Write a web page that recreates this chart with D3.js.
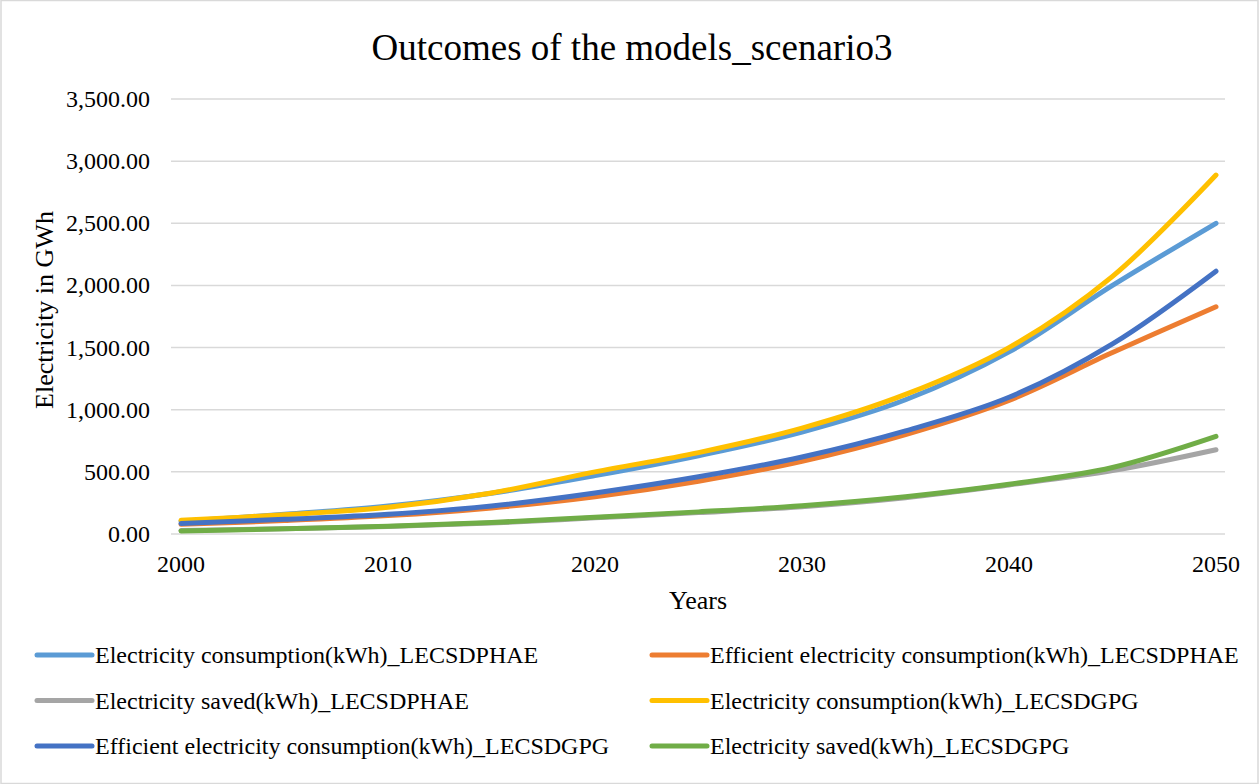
<!DOCTYPE html>
<html>
<head>
<meta charset="utf-8">
<script src="https://cdn.jsdelivr.net/npm/d3@7"></script>
<style>
    body { margin: 0; background: #fff; }
    text { font-family: "Times New Roman", Times, "Liberation Serif", serif; }
</style>
</head>
<body>
<svg id="chart" width="1260" height="784"></svg>
<script>
const years = [2000, 2005, 2010, 2015, 2020, 2025, 2030, 2035, 2040, 2045, 2050]
const xTicks = [2000, 2010, 2020, 2030, 2040, 2050]
const yTicks = [0, 500, 1000, 1500, 2000, 2500, 3000, 3500]

const seriesNames = [
    "Electricity consumption(kWh)_LECSDPHAE",
    "Efficient electricity consumption(kWh)_LECSDPHAE",
    "Electricity saved(kWh)_LECSDPHAE",
    "Electricity consumption(kWh)_LECSDGPG",
    "Efficient electricity consumption(kWh)_LECSDGPG",
    "Electricity saved(kWh)_LECSDGPG"
]
const consumptionPHAE = [103, 158, 225, 328, 470, 630, 820, 1080, 1465, 2000, 2500]
const efficientPHAE = [78, 108, 148, 210, 300, 425, 585, 800, 1075, 1460, 1828]
const savedPHAE = [28, 42, 60, 88, 130, 172, 220, 292, 395, 510, 678]
const consumptionGPG = [110, 155, 215, 330, 500, 655, 852, 1123, 1500, 2073, 2888]
const efficientGPG = [85, 118, 158, 225, 330, 460, 620, 830, 1100, 1530, 2115]
const savedGPG = [25, 42, 62, 92, 135, 178, 228, 300, 400, 535, 785]

const colors = ["#5b9bd5", "#ed7d31", "#a5a5a5", "#ffc000", "#4472c4", "#70ad47"]
const allValues = [consumptionPHAE, efficientPHAE, savedPHAE, consumptionGPG, efficientGPG, savedGPG]

const svg = d3.select("#chart")

// chart border
svg.append("rect")
    .attr("x", 1).attr("y", 0.5).attr("width", 1257).attr("height", 783)
    .attr("fill", "none").attr("stroke", "#d9d9d9").attr("stroke-width", 1.5)

const x = d3.scaleLinear().domain([2000, 2050]).range([181, 1216])
const y = d3.scaleLinear().domain([0, 3500]).range([534, 99])

// gridlines
svg.append("g")
    .selectAll("line")
    .data(yTicks)
    .join("line")
    .attr("x1", 171).attr("x2", 1225)
    .attr("y1", d => y(d)).attr("y2", d => y(d))
    .attr("stroke", "#d9d9d9").attr("stroke-width", 1.5)

// y axis labels
const fmt = d3.format(",.2f")
svg.append("g")
    .selectAll("text")
    .data(yTicks)
    .join("text")
    .attr("x", 150)
    .attr("y", d => y(d) + 8)
    .attr("text-anchor", "end")
    .attr("font-size", 24)
    .text(d => fmt(d))

// x axis labels
svg.append("g")
    .selectAll("text")
    .data(xTicks)
    .join("text")
    .attr("x", d => x(d))
    .attr("y", 572)
    .attr("text-anchor", "middle")
    .attr("font-size", 24)
    .text(d => d)

// titles
svg.append("text")
    .attr("x", 632).attr("y", 60)
    .attr("text-anchor", "middle")
    .attr("font-size", 37)
    .text("Outcomes of the models_scenario3")

svg.append("text")
    .attr("x", 698).attr("y", 609)
    .attr("text-anchor", "middle")
    .attr("font-size", 26)
    .text("Years")

svg.append("text")
    .attr("transform", "translate(53,310) rotate(-90)")
    .attr("text-anchor", "middle")
    .attr("font-size", 26)
    .text("Electricity in GWh")

// lines
const line = d3.line()
    .x((d, i) => x(years[i]))
    .y(d => y(d))
    .curve(d3.curveCatmullRom.alpha(0.5))

svg.append("g")
    .selectAll("path")
    .data(allValues)
    .join("path")
    .attr("d", d => line(d))
    .attr("fill", "none")
    .attr("stroke", (d, i) => colors[i])
    .attr("stroke-width", 5)
    .attr("stroke-linecap", "round")
    .attr("stroke-linejoin", "round")

// legend, two columns
const legend = svg.append("g")
    .selectAll("g")
    .data(seriesNames)
    .join("g")
    .attr("transform", (d, i) => "translate(" + (i % 2 === 0 ? 37 : 652) + "," + (655 + Math.floor(i / 2) * 45.5) + ")")

legend.append("line")
    .attr("x1", 0).attr("x2", 55).attr("y1", 0).attr("y2", 0)
    .attr("stroke", (d, i) => colors[i])
    .attr("stroke-width", 5)
    .attr("stroke-linecap", "round")

legend.append("text")
    .attr("x", 58)
    .attr("y", 8)
    .attr("font-size", 24)
    .text(d => d)
</script>
</body>
</html>
